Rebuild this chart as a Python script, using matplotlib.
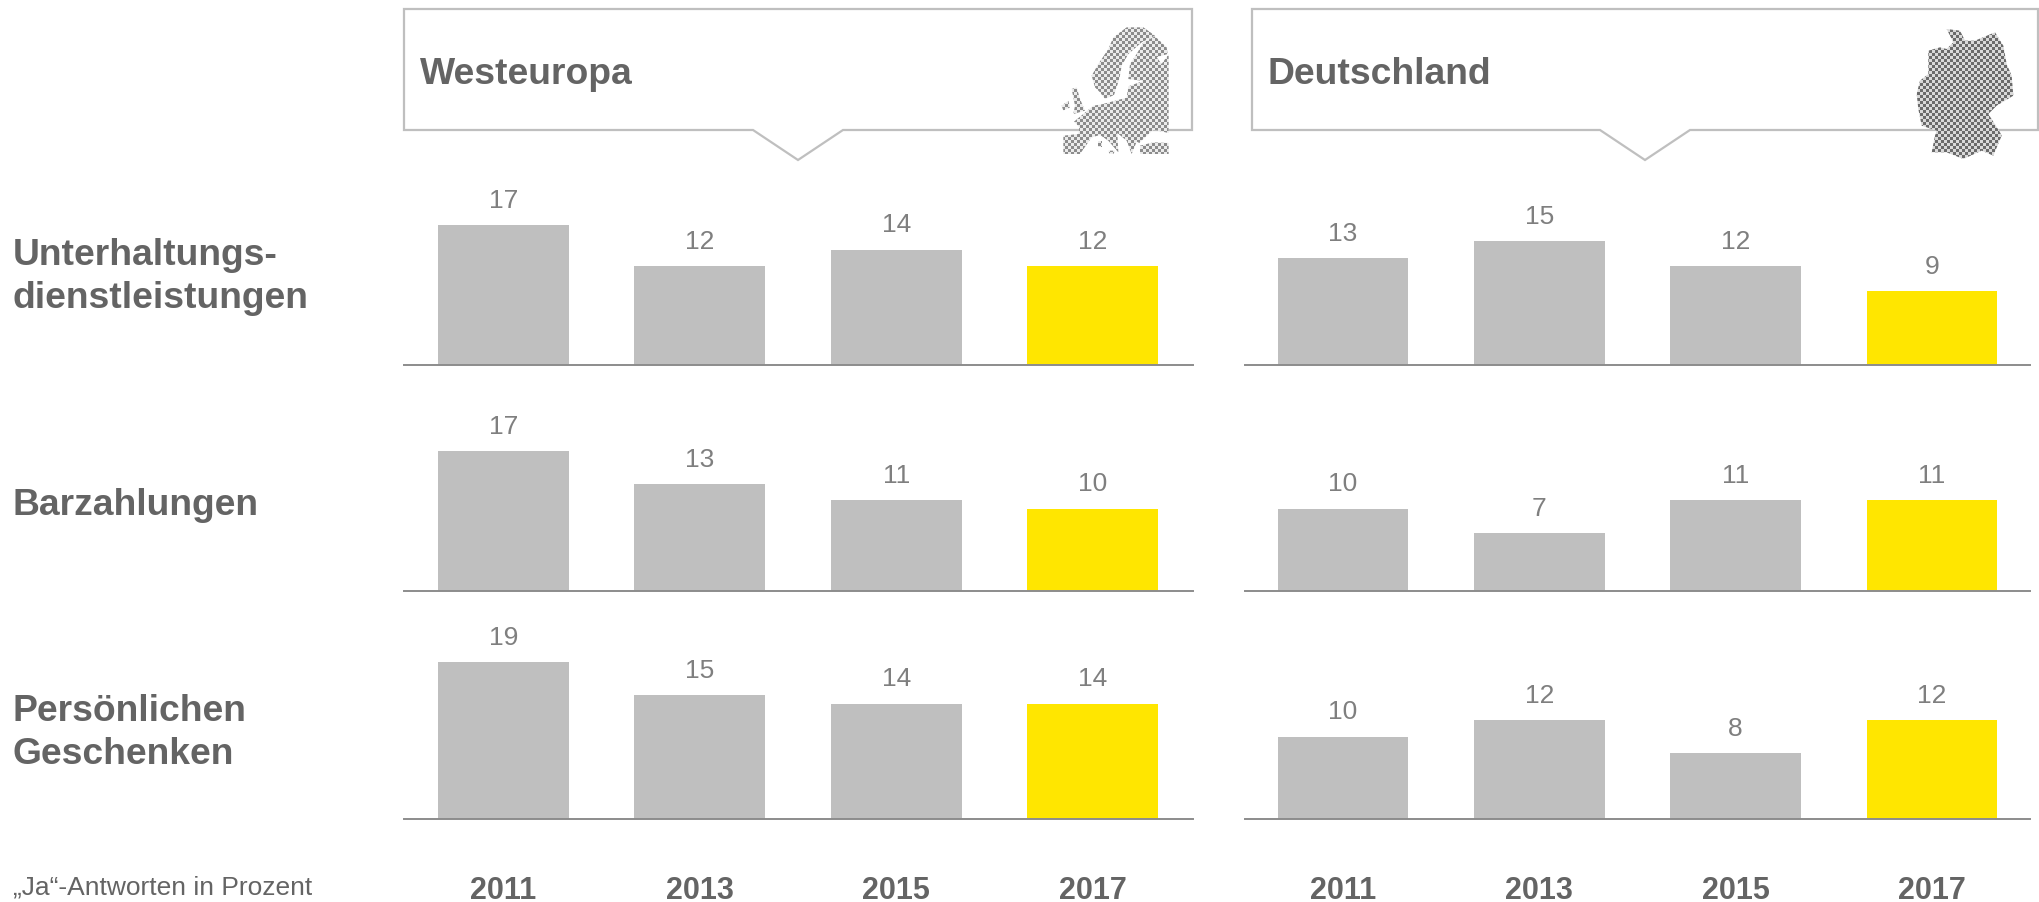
"""Bribery survey small multiples, Westeuropa vs Deutschland."""

import numpy as np
import matplotlib
matplotlib.use("Agg")
import matplotlib.pyplot as plt
from matplotlib.patches import Polygon

YEARS = ["2011", "2013", "2015", "2017"]
ROWS = ["Unterhaltungs-\ndienstleistungen", "Barzahlungen", "Persönlichen\nGeschenken"]
WEST = [[17, 12, 14, 12], [17, 13, 11, 10], [19, 15, 14, 14]]
GERMANY = [[13, 15, 12, 9], [10, 7, 11, 11], [10, 12, 8, 12]]
REGIONS = ["Westeuropa", "Deutschland"]
NOTE = "„Ja“-Antworten in Prozent"

INK = "#646464"
VALUE = "#7f7f7f"
BAR = "#bfbfbf"
HIGHLIGHT = "#ffe600"
BASE = "#8c8c8c"

W, H = 2040, 903
BASELINES = [366, 592, 820]
ROW_LABEL_Y = [277, 506, 733]
PX_PER_UNIT = 8.25

# map outlines in zoomed crop coordinates (3x, offset by the crop origin)
EUROPE = [
    [(400, 115), (440, 85), (490, 85), (525, 110), (485, 130), (445, 165), (425, 200), (418, 240),
     (402, 288), (375, 300), (360, 280), (345, 265), (335, 230), (355, 195), (385, 150)],
    [(490, 130), (525, 112), (560, 145), (563, 165), (530, 175), (545, 195), (566, 165), (566, 402),
     (520, 392), (490, 420), (478, 432), (470, 428), (455, 465), (440, 425), (412, 402), (415, 460),
     (385, 425), (360, 408), (335, 415), (300, 465), (250, 465), (250, 410), (295, 405), (298, 385),
     (282, 368), (310, 345), (340, 320), (365, 316), (440, 296), (445, 262), (490, 246), (445, 240),
     (450, 195), (470, 165)],
    [(480, 440), (520, 430), (566, 432), (566, 465), (480, 465)],
    [(275, 270), (290, 265), (300, 300), (315, 335), (280, 345), (285, 320)],
    [(245, 320), (265, 305), (270, 325), (250, 335)],
    [(355, 425), (365, 425), (365, 445), (355, 445)],
    [(385, 455), (405, 455), (400, 465), (388, 463)],
]
GERMAN_OUTLINE = [
    [(440, 90), (480, 95), (495, 125), (525, 125), (585, 100), (610, 140), (620, 195), (635, 230),
     (640, 290), (590, 320), (565, 345), (600, 400), (605, 410), (580, 470), (545, 455), (490, 480),
     (440, 460), (395, 460), (405, 410), (410, 395), (365, 380), (355, 330), (350, 285), (360, 245),
     (385, 225), (385, 155), (420, 145), (440, 150), (460, 130)],
]


def draw_callout(ax, left, right, notch, label):
    top, bottom, tip = 10, 131, 161
    outline = [(left, top), (right, top), (right, bottom), (notch + 45, bottom), (notch, tip),
               (notch - 45, bottom), (left, bottom)]
    ax.add_patch(Polygon(outline, closed=True, facecolor="white", edgecolor=BAR, linewidth=1.6))
    ax.text(left + 16, 75, label, fontsize=26.8, fontweight="bold", color=INK, va="center")


def draw_map(ax, shapes, origin, low, high, cell=3):
    for shape in shapes:
        points = [(origin[0] + x / 3, origin[1] + y / 3) for x, y in shape]
        xs, ys = zip(*points)
        x0, x1, y0, y1 = int(min(xs)), int(max(xs)) + 1, int(min(ys)), int(max(ys)) + 1
        row, col = np.indices((y1 - y0, x1 - x0))
        checks = ((row + y0) // cell + (col + x0) // cell) % 2
        shades = low + (high - low) * checks
        patch = Polygon(points, closed=True, facecolor="white", edgecolor="none", zorder=4)
        ax.add_patch(patch)
        image = ax.imshow(shades, cmap="gray", vmin=0, vmax=1, extent=(x0, x1, y1, y0),
                          interpolation="nearest", zorder=5, aspect="auto")
        image.set_clip_path(patch)


def draw_panel(fig, x_left, x_right, xlim, baseline, values, show_years):
    height = 20 * PX_PER_UNIT
    ax = fig.add_axes([x_left / W, (H - baseline) / H, (x_right - x_left) / W, height / H])
    ax.patch.set_alpha(0)
    colors = [BAR, BAR, BAR, HIGHLIGHT]
    bars = ax.bar(range(len(YEARS)), values, width=0.665, color=colors, linewidth=0)
    ax.bar_label(bars, padding=9.5, fontsize=19, color=VALUE)
    ax.set_xlim(*xlim)
    ax.set_ylim(0, 20)
    ax.set_yticks([])
    for side in ["top", "left", "right"]:
        ax.spines[side].set_visible(False)
    ax.spines["bottom"].set_color(BASE)
    ax.spines["bottom"].set_linewidth(1.4)
    ax.set_xticks(range(len(YEARS)))
    if show_years:
        ax.set_xticklabels(YEARS, fontsize=22, fontweight="bold", color=INK)
        ax.tick_params(axis="x", length=0, pad=40)
    else:
        ax.tick_params(axis="x", length=0, labelbottom=False)


def main():
    plt.rcParams["font.family"] = ["Liberation Sans", "DejaVu Sans"]
    fig = plt.figure(figsize=(W / 100, H / 100), dpi=100, facecolor="white")

    overlay = fig.add_axes([0, 0, 1, 1])
    overlay.axis("off")
    draw_callout(overlay, 404, 1192, 798, REGIONS[0])
    draw_callout(overlay, 1252, 2038, 1645, REGIONS[1])
    draw_map(overlay, EUROPE, (980, 0), 0.55, 0.92)
    draw_map(overlay, GERMAN_OUTLINE, (1800, 0), 0.42, 0.85)
    overlay.set_xlim(0, W)
    overlay.set_ylim(H, 0)

    for i, baseline in enumerate(BASELINES):
        draw_panel(fig, 404, 1193, (-0.505, 3.51), baseline, WEST[i], i == 2)
        draw_panel(fig, 1245, 2030, (-0.5, 3.5), baseline, GERMANY[i], i == 2)
        overlay.text(13, ROW_LABEL_Y[i], ROWS[i], fontsize=26.8, fontweight="bold", color=INK,
                     va="center", linespacing=1.33)

    overlay.text(13, 888, NOTE, fontsize=19, color=INK, va="center")
    fig.savefig("out.png", dpi=100)
    plt.close(fig)


if __name__ == "__main__":
    main()
